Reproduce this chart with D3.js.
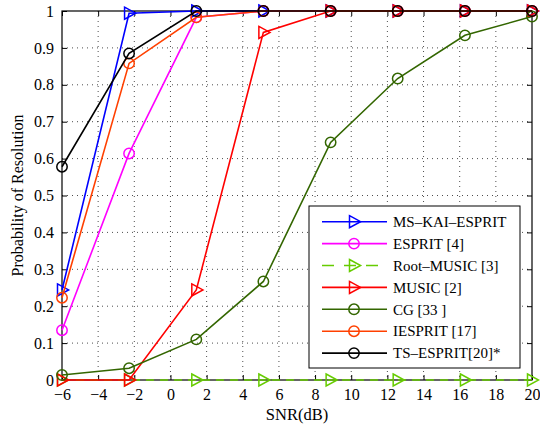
<!DOCTYPE html>
<html><head><meta charset="utf-8">
<script src="https://cdn.jsdelivr.net/npm/d3@7/dist/d3.min.js"></script>
<style>body{margin:0;background:#fff}svg, svg text{font-family:"Liberation Serif","Times New Roman",serif}</style>
</head><body><div id="c"></div>
<script>
const snr = [-6, -2.29, 1.43, 5.14, 8.86, 12.57, 16.29, 20];
const xTicks = [-6,-4,-2,0,2,4,6,8,10,12,14,16,18,20];
const yTicks = [0,0.1,0.2,0.3,0.4,0.5,0.6,0.7,0.8,0.9,1];
const seriesNames = ["MS\u2013KAI\u2013ESPRIT","ESPRIT [4]","Root\u2013MUSIC [3]","MUSIC [2]","CG [33 ]","IESPRIT [17]","TS\u2013ESPRIT[20]*"];
const msKai   = [0.244, 0.994, 1, 1, 1, 1, 1, 1];
const esprit  = [0.135, 0.614, 0.983, 1, 1, 1, 1, 1];
const rootMusic = [0, 0, 0, 0, 0, 0, 0, 0];
const music   = [0, 0, 0.244, 0.942, 1, 1, 1, 1];
const cg      = [0.0135, 0.032, 0.110, 0.267, 0.644, 0.817, 0.934, 0.985];
const iesprit = [0.223, 0.858, 0.983, 1, 1, 1, 1, 1];
const tsEsprit= [0.578, 0.885, 1, 1, 1, 1, 1, 1];
const colors = ["#0000ff","#ff00ff","#66cc00","#ff0000","#336600","#ff4000","#000000"];
const markers = ["tri","circle","tri","tri","circle","circle","circle"];
const dashes = [null,null,"8,6",null,null,null,null];
const allVals = [msKai, esprit, rootMusic, music, cg, iesprit, tsEsprit];

const W=540,H=425, L=62, R=532, T=11, B=380;
const svg = d3.select("#c").append("svg").attr("width",W).attr("height",H);
const x = d3.scaleLinear().domain([-6,20]).range([L,R]);
const y = d3.scaleLinear().domain([0,1]).range([B,T]);

// grid
const g = svg.append("g");
g.selectAll(".vg").data(xTicks.slice(1,-1)).join("line")
 .attr("x1",d=>x(d)).attr("x2",d=>x(d)).attr("y1",T).attr("y2",B)
 .attr("stroke","#000").attr("stroke-width",0.7).attr("stroke-dasharray","1,4");
g.selectAll(".hg").data(yTicks.slice(1,-1)).join("line")
 .attr("y1",d=>y(d)).attr("y2",d=>y(d)).attr("x1",L).attr("x2",R)
 .attr("stroke","#000").attr("stroke-width",0.7).attr("stroke-dasharray","1,4");

// axes
const ax = d3.axisBottom(x).tickValues(xTicks).tickSize(-5).tickPadding(8.5).tickFormat(d=>d<0?"\u2212"+(-d):d);
const ay = d3.axisLeft(y).tickValues(yTicks).tickSize(-5).tickPadding(8).tickFormat(d=>d===0?"0":d===1?"1":d3.format(".1f")(d));
const ax2 = d3.axisTop(x).tickValues(xTicks).tickSize(-5).tickFormat("");
const ay2 = d3.axisRight(y).tickValues(yTicks).tickSize(-5).tickFormat("");
function style(s){s.attr("font-family",null).attr("font-size",null);s.select(".domain").remove();s.selectAll("line").attr("stroke","#000");s.selectAll("text").attr("font-size",16).attr("fill","#000");}
svg.append("g").attr("transform",`translate(0,${B})`).call(ax).call(style);
svg.append("g").attr("transform",`translate(${L},0)`).call(ay).call(style);
svg.append("g").attr("transform",`translate(0,${T})`).call(ax2).call(style);
svg.append("g").attr("transform",`translate(${R},0)`).call(ay2).call(style);
svg.append("rect").attr("x",L).attr("y",T).attr("width",R-L).attr("height",B-T).attr("fill","none").attr("stroke","#000").attr("stroke-width",1.2);

function marker(sel, type, cx, cy, color){
  if(type==="circle"){
    sel.append("circle").attr("cx",cx).attr("cy",cy).attr("r",5.2).attr("fill","none").attr("stroke",color).attr("stroke-width",1.5);
  } else {
    const s=6;
    sel.append("path").attr("d",`M${cx-s*0.75},${cy-s}L${cx+s*1.1},${cy}L${cx-s*0.75},${cy+s}Z`).attr("fill","none").attr("stroke",color).attr("stroke-width",1.5);
  }
}
const line = d3.line().x((d,i)=>x(snr[i])).y(d=>y(d));
allVals.forEach((vals,k)=>{
  const gg = svg.append("g");
  gg.append("path").attr("d",line(vals)).attr("fill","none").attr("stroke",colors[k]).attr("stroke-width",1.6)
    .attr("stroke-dasharray",dashes[k]);
  vals.forEach((v,i)=>marker(gg,markers[k],x(snr[i]),y(v),colors[k]));
});

// legend
const lg = svg.append("g");
lg.append("rect").attr("x",309).attr("y",206).attr("width",211).attr("height",162).attr("fill","#fff").attr("stroke","#000").attr("stroke-width",1);
seriesNames.forEach((n,k)=>{
  const ly = 221.7 + k*21.9;
  lg.append("line").attr("x1",322).attr("x2",387).attr("y1",ly).attr("y2",ly).attr("stroke",colors[k]).attr("stroke-width",1.6).attr("stroke-dasharray",dashes[k]?"12,10":null);
  marker(lg,markers[k],354,ly,colors[k]);
  lg.append("text").attr("x",393).attr("y",ly).attr("dy","0.35em").attr("font-size",15).text(n);
});

// labels
svg.append("text").attr("x",(L+R)/2).attr("y",419.5).attr("text-anchor","middle").attr("font-size",16.5).text("SNR(dB)");
svg.append("text").attr("transform",`translate(17,${(T+B)/2}) rotate(-90)`).attr("text-anchor","middle").attr("dy","0.35em").attr("font-size",16).text("Probability of Resolution");
</script></body></html>
